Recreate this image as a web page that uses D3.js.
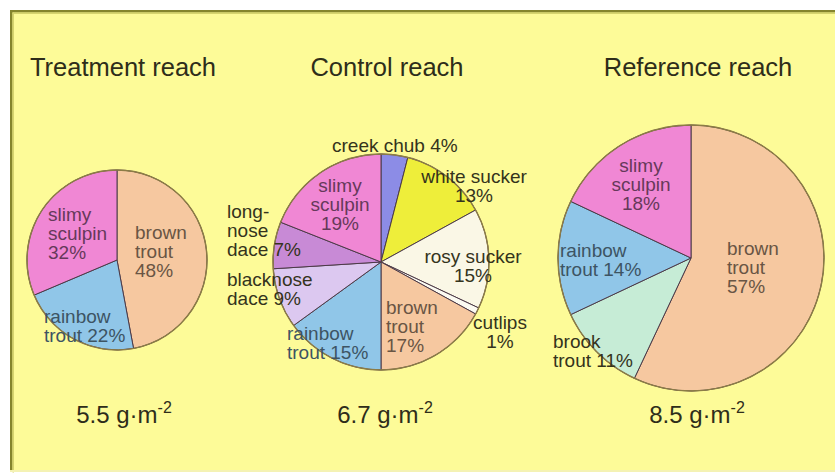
<!DOCTYPE html>
<html>
<head>
<meta charset="utf-8">
<script src="https://cdn.jsdelivr.net/npm/d3@7/dist/d3.min.js"></script>
<style>
  html, body { margin: 0; padding: 0; background: #ffffff; }
  svg { display: block; }
  text { font-family: "Liberation Sans", Arial, Helvetica, sans-serif; }
</style>
</head>
<body>
<svg id="chart" width="835" height="476"></svg>
<script>
// Fish biomass composition (% of total) in three stream reaches
const reachTitles = ["Treatment reach", "Control reach", "Reference reach"];
const reachBiomass = [5.5, 6.7, 8.5];           // total biomass, g·m-2

const treatmentSpecies = ["brown trout", "rainbow trout", "slimy sculpin"];
const treatmentPct     = [48, 22, 32];

const controlSpecies = ["creek chub", "white sucker", "rosy sucker", "cutlips",
                        "brown trout", "rainbow trout", "blacknose dace",
                        "longnose dace", "slimy sculpin"];
const controlPct     = [4, 13, 15, 1, 17, 15, 9, 7, 19];

const referenceSpecies = ["brown trout", "brook trout", "rainbow trout", "slimy sculpin"];
const referencePct     = [57, 11, 14, 18];

// Slice fill per species
const speciesColor = d3.scaleOrdinal()
  .domain(["brown trout", "rainbow trout", "slimy sculpin", "creek chub",
           "white sucker", "rosy sucker", "cutlips", "blacknose dace",
           "longnose dace", "brook trout"])
  .range(["#f6c8a0", "#90c6e8", "#f087d4", "#8c8ce6",
          "#eeee3a", "#faf7e6", "#fbfaf2", "#dcc8f0",
          "#c88ad6", "#c6ecd6"]);

// How each species label wraps onto lines ({p} = percentage)
const labelLines = {
  "brown trout":    ["brown", "trout", "{p}%"],
  "rainbow trout":  ["rainbow", "trout {p}%"],
  "slimy sculpin":  ["slimy", "sculpin", "{p}%"],
  "creek chub":     ["creek chub {p}%"],
  "white sucker":   ["white sucker", "{p}%"],
  "rosy sucker":    ["rosy sucker", "{p}%"],
  "cutlips":        ["cutlips", "{p}%"],
  "blacknose dace": ["blacknose", "dace {p}%"],
  "longnose dace":  ["long-", "nose", "dace {p}%"],
  "brook trout":    ["brook", "trout {p}%"]
};

// Panel layout: pie centre/radius, title and biomass label placement,
// label offsets from the pie centre [dx, dy of first baseline, anchor, ink]
const panels = [
  { species: treatmentSpecies, pct: treatmentPct,
    cx: 117, cy: 260, r: 90, titleX: 123, footX: 124,
    labels: {
      "brown trout":   [18, -21, "start", "in"],
      "rainbow trout": [-73, 63, "start", "in"],
      "slimy sculpin": [-69, -39, "start", "in"]
    } },
  { species: controlSpecies, pct: controlPct,
    cx: 381, cy: 262, r: 108, titleX: 387, footX: 385,
    labels: {
      "creek chub":     [-49, -110, "start", "out"],
      "white sucker":   [93, -79, "middle", "out"],
      "rosy sucker":    [92, 1, "middle", "out"],
      "cutlips":        [119, 67, "middle", "out"],
      "brown trout":    [5, 52, "start", "in"],
      "rainbow trout":  [-94, 78, "start", "in"],
      "blacknose dace": [-154, 24, "start", "out"],
      "longnose dace":  [-154, -44, "start", "out"],
      "slimy sculpin":  [-41, -70, "middle", "in"]
    } },
  { species: referenceSpecies, pct: referencePct,
    cx: 691, cy: 258, r: 133, titleX: 698, footX: 697,
    labels: {
      "brown trout":   [36, -3, "start", "in"],
      "brook trout":   [-138, 90, "start", "out"],
      "rainbow trout": [-131, -1, "start", "in"],
      "slimy sculpin": [-50, -86, "middle", "in"]
    } }
];

const svg = d3.select("#chart");
const W = 835, H = 476;

// Pale yellow panel with a dark bevel along the top and left edges
svg.append("rect").attr("x", 0).attr("y", 0).attr("width", W).attr("height", H).attr("fill", "#ffffff");
svg.append("rect").attr("x", 10).attr("y", 10).attr("width", W - 10).attr("height", 462)
  .attr("fill", "#fdfb98");
svg.append("rect").attr("x", 10).attr("y", 10).attr("width", W - 10).attr("height", 2.5).attr("fill", "#85852c");
svg.append("rect").attr("x", 10).attr("y", 10).attr("width", 2.5).attr("height", 462).attr("fill", "#85852c");
svg.append("rect").attr("x", 12.5).attr("y", 12.5).attr("width", W - 12).attr("height", 1.5).attr("fill", "#d6d46e");
svg.append("rect").attr("x", 12.5).attr("y", 12.5).attr("width", 1.5).attr("height", 460).attr("fill", "#d6d46e");
svg.append("rect").attr("x", 10).attr("y", 470).attr("width", W - 10).attr("height", 2).attr("fill", "#f4f2b4");

const pie = d3.pie().sort(null).value(d => d.pct);
const LINE = 19.2;

panels.forEach((p, i) => {
  const rows = p.species.map((s, k) => ({ species: s, pct: p.pct[k] }));
  const arc = d3.arc().innerRadius(0).outerRadius(p.r);
  const g = svg.append("g").attr("transform", `translate(${p.cx},${p.cy})`);

  g.selectAll("path.slice")
    .data(pie(rows))
    .join("path")
    .attr("class", "slice")
    .attr("d", arc)
    .attr("fill", d => speciesColor(d.data.species))
    .attr("stroke", "#4c3a48")
    .attr("stroke-width", 1)
    .attr("stroke-linejoin", "round");

  g.append("circle").attr("r", p.r).attr("fill", "none")
    .attr("stroke", "#8c7c46").attr("stroke-width", 1.4);

  // Species labels
  rows.forEach(d => {
    const [dx, dy, anchor, where] = p.labels[d.species];
    const ink = where === "in"
      ? d3.color(speciesColor(d.species)).darker(2.4).formatHex()
      : "#34331c";
    const t = g.append("text")
      .attr("x", dx).attr("y", dy)
      .attr("text-anchor", anchor)
      .attr("font-size", 19)
      .attr("fill", ink);
    labelLines[d.species].forEach((ln, j) => {
      t.append("tspan")
        .attr("x", dx)
        .attr("dy", j === 0 ? 0 : LINE)
        .text(ln.replace("{p}", d.pct));
    });
  });

  // Panel title
  svg.append("text")
    .attr("x", p.titleX).attr("y", 76)
    .attr("text-anchor", "middle")
    .attr("font-size", 25.5)
    .attr("fill", "#2e2d1a")
    .text(reachTitles[i]);

  // Total biomass under each pie
  const foot = svg.append("text")
    .attr("x", p.footX).attr("y", 423)
    .attr("text-anchor", "middle")
    .attr("font-size", 24)
    .attr("fill", "#2e2d1a");
  foot.append("tspan").text(`${reachBiomass[i]} g\u00b7m`);
  foot.append("tspan").attr("dy", -10).attr("font-size", 16).text("-2");
});
</script>
</body>
</html>
